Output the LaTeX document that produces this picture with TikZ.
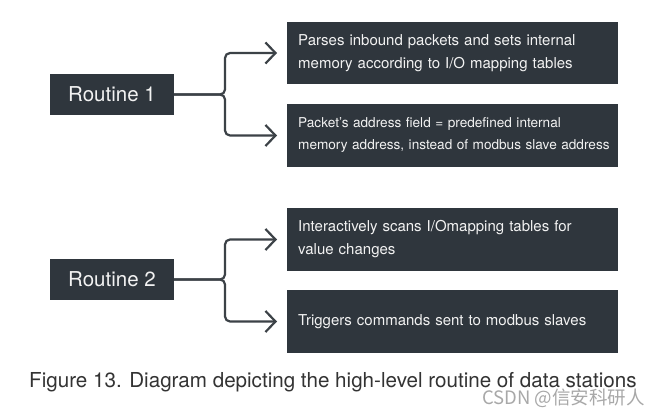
\documentclass[tikz,border=0pt]{standalone}
\usepackage{fontspec}
\setmainfont{TeX Gyre Heros}
\newfontfamily\cjkfont{Noto Sans CJK SC}
\usetikzlibrary{arrows.meta}
\definecolor{boxfill}{HTML}{2F363D}
\definecolor{boxtext}{HTML}{F2F2F2}
\definecolor{linecol}{HTML}{3C4247}
\definecolor{captext}{HTML}{333333}
\definecolor{markgray}{HTML}{A8A8A8}
\tikzset{
  routinebox/.style={fill=boxfill, text=boxtext, minimum width=124pt, minimum height=41pt,
    inner sep=0pt, font=\fontsize{20.5}{24}\selectfont},
  descbox/.style={fill=boxfill, text=boxtext, text width=309pt, inner xsep=11pt, inner ysep=0pt,
    minimum height=62pt, align=left, anchor=west},
  conn/.style={draw=linecol, line width=2.2pt, rounded corners=5pt,
    -{Straight Barb[length=10pt,width=21pt,line width=2.2pt]}},
}
\begin{document}
\begin{tikzpicture}[x=1pt,y=-1pt]
\useasboundingbox[fill=white] (0,0) rectangle (664,420);

\node[routinebox] (r1) at (112,94.5) {Routine 1};
\node[routinebox] (r2) at (112,279.5) {Routine 2};

\node[descbox, font=\fontsize{15}{23}\selectfont] (a1) at (287,53)
  {\mbox{Parses inbound packets and sets internal}\\\mbox{memory according to I/O mapping tables}};
\node[descbox, font=\fontsize{13.6}{22}\selectfont, minimum height=63pt] (a2) at (287,135.5)
  {\mbox{Packet’s address field = predefined internal}\\\mbox{memory address, instead of modbus slave address}};
\node[descbox, font=\fontsize{15}{23}\selectfont, minimum height=63pt] (b1) at (287,239.5)
  {\mbox{Interactively scans I/Omapping tables for}\\\mbox{value changes}};
\node[descbox, font=\fontsize{15}{23}\selectfont, minimum height=63pt] (b2) at (287,321.5)
  {\mbox{Triggers commands sent to modbus slaves}};

\draw[conn] (r1.east) -| ([xshift=-62pt]a1.west) -- ([xshift=-10pt]a1.west);
\draw[conn] (r1.east) -| ([xshift=-62pt]a2.west) -- ([xshift=-10pt]a2.west);
\draw[conn] (r2.east) -| ([xshift=-62pt]b1.west) -- ([xshift=-10pt]b1.west);
\draw[conn] (r2.east) -| ([xshift=-62pt]b2.west) -- ([xshift=-10pt]b2.west);

\node[anchor=base west, inner sep=0pt, text=captext, font=\fontsize{20.6}{24}\selectfont] (cap) at (29,387)
  {Figure 13. Diagram depicting the high-level routine of data stations};
\node[anchor=base east, inner sep=0pt, text=markgray, font=\cjkfont\fontsize{18.5}{22}\selectfont] (mark) at (645,404)
  {CSDN @信安科研人};
\end{tikzpicture}
\end{document}
